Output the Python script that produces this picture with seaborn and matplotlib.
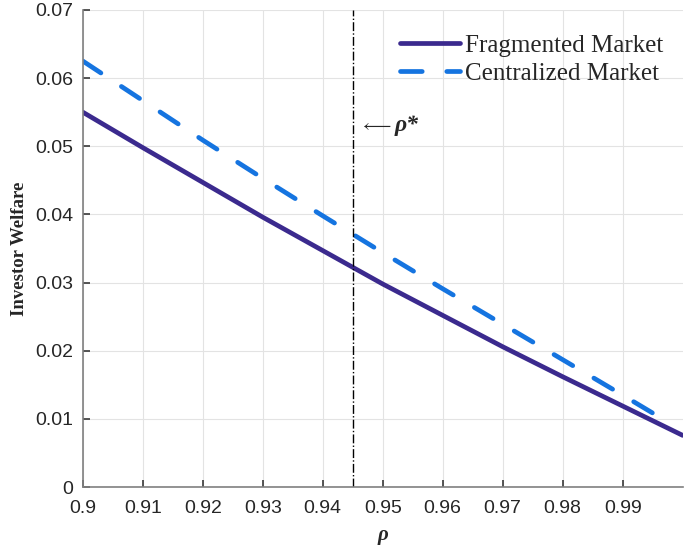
import numpy as np
import pandas as pd
import matplotlib
matplotlib.use("Agg")
import matplotlib.pyplot as plt
import seaborn as sns

rho_frag = [0.90, 0.91, 0.92, 0.93, 0.94, 0.95, 0.96, 0.97, 0.98, 0.99, 1.00]
welfare_frag = [0.0550, 0.0498, 0.0447, 0.0396, 0.0347, 0.0298, 0.0252, 0.0206, 0.0162, 0.0119, 0.0076]
rho_cent = [0.90, 0.91, 0.92, 0.93, 0.94, 0.95, 0.96, 0.97, 0.98, 0.99, 0.998]
welfare_cent = [0.0625, 0.0567, 0.0509, 0.0453, 0.0398, 0.0344, 0.0291, 0.0239, 0.0187, 0.0135, 0.0093]
rho_star = 0.945
xticks = [0.90, 0.91, 0.92, 0.93, 0.94, 0.95, 0.96, 0.97, 0.98, 0.99]
xticklabels = ["0.9", "0.91", "0.92", "0.93", "0.94", "0.95", "0.96", "0.97", "0.98", "0.99"]
yticks = [0, 0.01, 0.02, 0.03, 0.04, 0.05, 0.06, 0.07]
yticklabels = ["0", "0.01", "0.02", "0.03", "0.04", "0.05", "0.06", "0.07"]

sns.set_theme(style="whitegrid")
plt.rcParams['font.family'] = ['Liberation Sans', 'DejaVu Sans']
plt.rcParams['mathtext.fontset'] = 'stix'

serif = ['Liberation Serif', 'DejaVu Serif']

fig = plt.figure(figsize=(6.84, 5.48), dpi=100)
ax = fig.add_axes([0.121, 0.111, 0.877, 0.871])

df_f = pd.DataFrame({"rho": rho_frag, "w": welfare_frag})
df_c = pd.DataFrame({"rho": rho_cent, "w": welfare_cent})

sns.lineplot(data=df_f, x="rho", y="w", ax=ax, color="#3b2a8e", linewidth=3.4,
             label="Fragmented Market", solid_capstyle="round")
sns.lineplot(data=df_c, x="rho", y="w", ax=ax, color="#1574e0", linewidth=3.4,
             label="Centralized Market")
cl = ax.lines[1]
cl.set_linestyle((0, (4.6, 5.2)))
cl.set_dash_capstyle("round")

ax.axvline(rho_star, color="black", linestyle="-.", linewidth=1.0)
ax.text(rho_star + 0.0012, 0.0531, r"$\longleftarrow$", fontsize=13, va="center", ha="left")
ax.text(rho_star + 0.0070, 0.0531, "\u03c1*", fontsize=17, va="center", ha="left",
        fontweight="bold", fontstyle="italic", family=serif)

ax.set_xlim(0.9, 1.0)
ax.set_ylim(0, 0.07)
ax.set_xticks(xticks)
ax.set_xticklabels(xticklabels)
ax.set_yticks(yticks)
ax.set_yticklabels(yticklabels)
ax.tick_params(axis="both", labelsize=14, labelcolor="#262626", color="#404040",
               direction="in", length=5, bottom=True, left=True)
ax.tick_params(axis="x", pad=9)
ax.tick_params(axis="y", pad=7)
ax.grid(True, color="#e3e3e3", linewidth=0.8)
for s in ["top", "right"]:
    ax.spines[s].set_visible(False)
for s in ["left", "bottom"]:
    ax.spines[s].set_color("#808080")
    ax.spines[s].set_linewidth(1.2)

ax.set_xlabel("\u03c1", fontsize=15, fontweight="bold", fontstyle="italic",
              family=serif, labelpad=6)
ax.set_ylabel("Investor Welfare", fontsize=13.5, fontweight="bold",
              family=serif, labelpad=5)

leg = ax.legend(loc="upper right", frameon=False, handlelength=2.4,
                prop={'family': serif, 'size': 18},
                bbox_to_anchor=(0.997, 0.985),
                borderaxespad=0.3, labelspacing=0.2, handletextpad=0.2)

fig.savefig("out.png", dpi=100)
